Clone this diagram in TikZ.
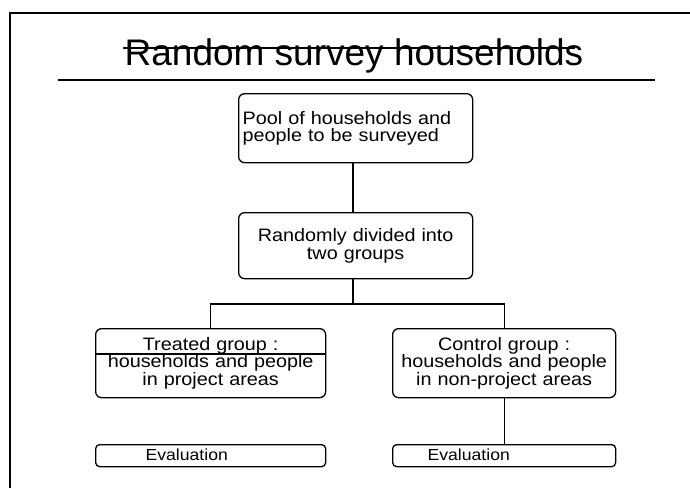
\documentclass[tikz,border=0pt]{standalone}
\usepackage{fontspec}
\setmainfont{Liberation Sans}
\newfontfamily\wideboxfont[FakeStretch=1.1]{Liberation Sans}
\begin{document}
\begin{tikzpicture}[x=1pt,y=-1pt,
  line width=1.3pt,
  box/.style={draw, rounded corners=6pt, inner sep=0pt, anchor=north west,
    font=\wideboxfont\fontsize{18}{17.5}\selectfont},
  evalbox/.style={draw, rounded corners=4pt, inner sep=0pt, anchor=north west,
    minimum width=230pt, minimum height=22pt},
  evaltext/.style={anchor=west, inner sep=0pt, font=\wideboxfont\fontsize{16}{17}\selectfont},
  conn/.style={line width=1.3pt}]
\useasboundingbox (0,0) rectangle (690,488);
% frame
\draw (10,488) -- (10,13) -- (690,13);
% title
\node[anchor=base, inner sep=0pt, font=\fontsize{37}{40}\selectfont] (title) at (354,65) {Random survey households};
\draw[line width=1.2pt] (123,48) -- (575,48);
\draw (58,80) -- (655,80);
% boxes
\node[box, minimum width=234pt, minimum height=69pt, text width=226pt, align=left] (pool) at (238,93)
  {Pool of households and\\people to be surveyed};
\node[box, minimum width=234pt, minimum height=66pt, text width=230pt, align=center] (split) at (238,212)
  {Randomly divided into\\two groups};
\node[box, minimum width=230pt, minimum height=69pt, text width=226pt, align=center] (treated) at (95,328)
  {Treated group :\\households and people\\in project areas};
\node[box, minimum width=223pt, minimum height=69pt, text width=221pt, align=center] (control) at (392,328)
  {Control group :\\households and people\\in non-project areas};
\draw (treated.west |- 0,354) -- (treated.east |- 0,354);
% evaluation boxes
\node[evalbox] (eval1) at (95,444) {};
\node[evalbox, minimum width=223pt] (eval2) at (392,444) {};
\node[evaltext] (evaltext1) at (145,455) {Evaluation};
\node[evaltext] (evaltext2) at (427,455) {Evaluation};
% connectors
\coordinate (fork) at (353,304);
\draw[conn] (pool.south -| fork) -- (split.north -| fork);
\draw[conn] (split.south -| fork) -- (fork);
\draw[conn] (treated.north) -- (treated.north |- fork) -- (control.north |- fork) -- (control.north);
\draw[conn] (control.south) -- (eval2.north -| control.south);
\end{tikzpicture}
\end{document}
